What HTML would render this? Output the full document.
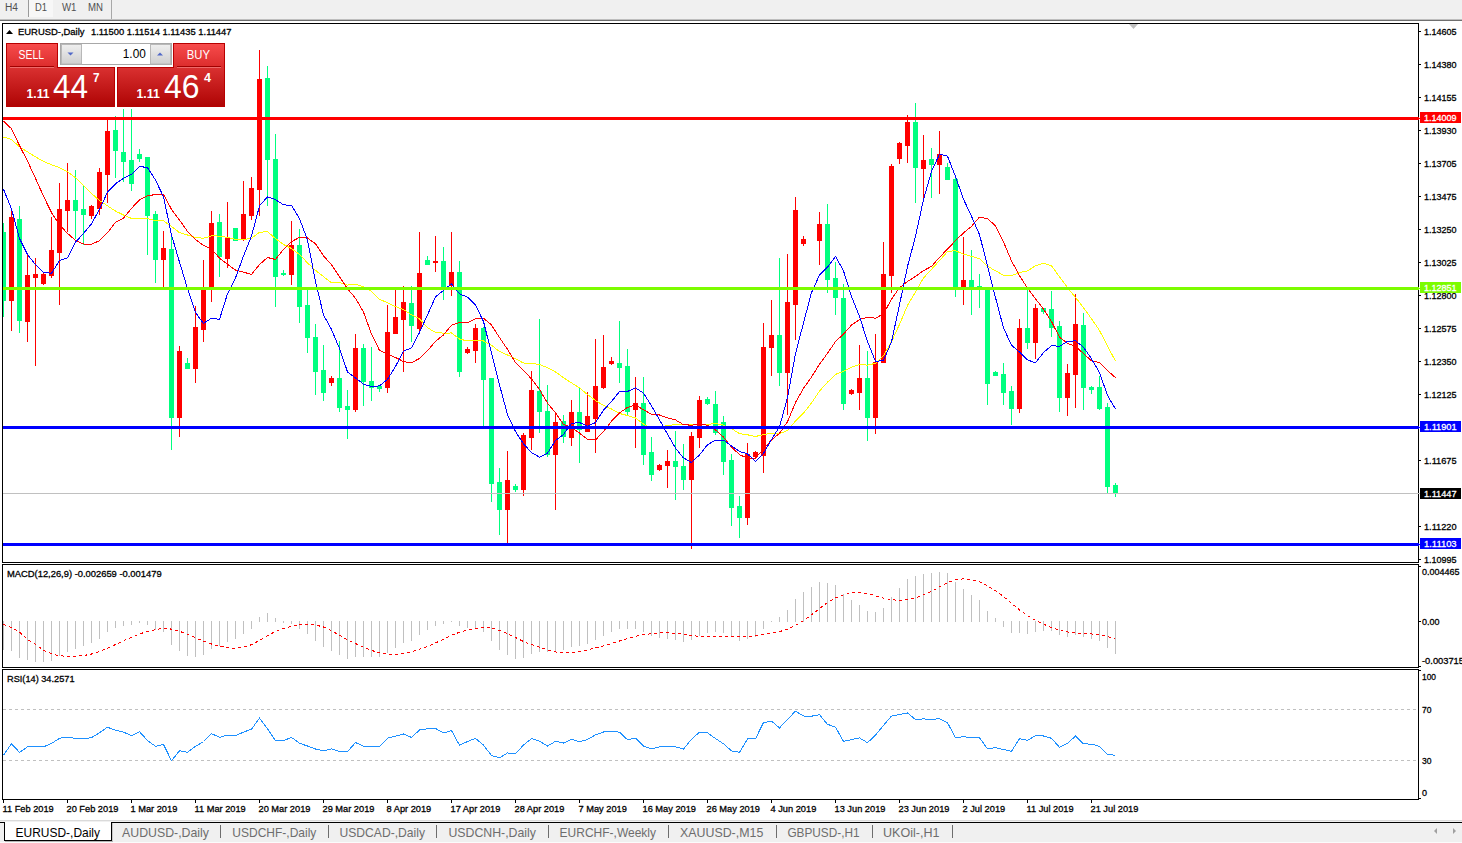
<!DOCTYPE html><html><head><meta charset="utf-8"><title>EURUSD-,Daily</title><style>html,body{margin:0;padding:0;background:#fff;overflow:hidden}svg{display:block}text{font-family:"Liberation Sans",Arial,sans-serif}.t{stroke-width:0.3px;paint-order:fill}</style></head><body>
<svg width="1462" height="843" viewBox="0 0 1462 843">
<defs><clipPath id="cm"><rect x="3" y="24" width="1415" height="538"/></clipPath><clipPath id="cmacd"><rect x="3" y="565" width="1415" height="102"/></clipPath><clipPath id="crsi"><rect x="3" y="670" width="1415" height="129"/></clipPath><linearGradient id="gbtn" x1="0" y1="0" x2="0" y2="1"><stop offset="0" stop-color="#F84D4D"/><stop offset="1" stop-color="#DC2C2C"/></linearGradient><linearGradient id="gbox" x1="0" y1="0" x2="0" y2="1"><stop offset="0" stop-color="#DA3131"/><stop offset="1" stop-color="#AE0303"/></linearGradient><linearGradient id="gspin" x1="0" y1="0" x2="0" y2="1"><stop offset="0" stop-color="#EFEFEF"/><stop offset="1" stop-color="#CFCFCF"/></linearGradient></defs>
<rect x="0" y="0" width="1462" height="843" fill="#FFFFFF" />
<rect x="0" y="0" width="1462" height="19" fill="#F0F0F0" />
<rect x="0" y="19" width="1462" height="1" fill="#BEBEBE" />
<rect x="0" y="20" width="1462" height="1" fill="#6E6E6E" />
<rect x="29" y="0" width="24" height="17" fill="#F7F7F7" />
<rect x="28" y="0" width="1" height="17" fill="#9A9A9A" />
<rect x="111" y="0" width="1" height="19" fill="#A8A8A8" />
<text x="5" y="11" font-size="10" fill="#505050" textLength="13.00" lengthAdjust="spacingAndGlyphs" >H4</text>
<text x="35" y="11" font-size="10" fill="#505050" textLength="12.00" lengthAdjust="spacingAndGlyphs" >D1</text>
<text x="62" y="11" font-size="10" fill="#505050" textLength="14.50" lengthAdjust="spacingAndGlyphs" >W1</text>
<text x="88" y="11" font-size="10" fill="#505050" textLength="15.00" lengthAdjust="spacingAndGlyphs" >MN</text>
<rect x="2.5" y="23.5" width="1416" height="539" fill="none" stroke="#000" stroke-width="1" shape-rendering="crispEdges"/>
<rect x="2.5" y="564.5" width="1416" height="103" fill="none" stroke="#000" stroke-width="1" shape-rendering="crispEdges"/>
<rect x="2.5" y="669.5" width="1416" height="130" fill="none" stroke="#000" stroke-width="1" shape-rendering="crispEdges"/>
<polygon points="1129,24 1138,24 1133.5,29" fill="#C0C0C0"/>
<rect x="1419" y="31" width="2" height="1" fill="#000" />
<text x="1424" y="35" font-size="9.7" fill="#000" textLength="32.60" lengthAdjust="spacingAndGlyphs" class="t" stroke="#000" >1.14605</text>
<rect x="1419" y="64" width="2" height="1" fill="#000" />
<text x="1424" y="68" font-size="9.7" fill="#000" textLength="32.60" lengthAdjust="spacingAndGlyphs" class="t" stroke="#000" >1.14380</text>
<rect x="1419" y="97" width="2" height="1" fill="#000" />
<text x="1424" y="101" font-size="9.7" fill="#000" textLength="32.60" lengthAdjust="spacingAndGlyphs" class="t" stroke="#000" >1.14155</text>
<rect x="1419" y="130" width="2" height="1" fill="#000" />
<text x="1424" y="134" font-size="9.7" fill="#000" textLength="32.60" lengthAdjust="spacingAndGlyphs" class="t" stroke="#000" >1.13930</text>
<rect x="1419" y="163" width="2" height="1" fill="#000" />
<text x="1424" y="167" font-size="9.7" fill="#000" textLength="32.60" lengthAdjust="spacingAndGlyphs" class="t" stroke="#000" >1.13705</text>
<rect x="1419" y="196" width="2" height="1" fill="#000" />
<text x="1424" y="200" font-size="9.7" fill="#000" textLength="32.60" lengthAdjust="spacingAndGlyphs" class="t" stroke="#000" >1.13475</text>
<rect x="1419" y="229" width="2" height="1" fill="#000" />
<text x="1424" y="233" font-size="9.7" fill="#000" textLength="32.60" lengthAdjust="spacingAndGlyphs" class="t" stroke="#000" >1.13250</text>
<rect x="1419" y="262" width="2" height="1" fill="#000" />
<text x="1424" y="266" font-size="9.7" fill="#000" textLength="32.60" lengthAdjust="spacingAndGlyphs" class="t" stroke="#000" >1.13025</text>
<rect x="1419" y="295" width="2" height="1" fill="#000" />
<text x="1424" y="299" font-size="9.7" fill="#000" textLength="32.60" lengthAdjust="spacingAndGlyphs" class="t" stroke="#000" >1.12800</text>
<rect x="1419" y="328" width="2" height="1" fill="#000" />
<text x="1424" y="332" font-size="9.7" fill="#000" textLength="32.60" lengthAdjust="spacingAndGlyphs" class="t" stroke="#000" >1.12575</text>
<rect x="1419" y="361" width="2" height="1" fill="#000" />
<text x="1424" y="365" font-size="9.7" fill="#000" textLength="32.60" lengthAdjust="spacingAndGlyphs" class="t" stroke="#000" >1.12350</text>
<rect x="1419" y="394" width="2" height="1" fill="#000" />
<text x="1424" y="398" font-size="9.7" fill="#000" textLength="32.60" lengthAdjust="spacingAndGlyphs" class="t" stroke="#000" >1.12125</text>
<rect x="1419" y="427" width="2" height="1" fill="#000" />
<text x="1424" y="431" font-size="9.7" fill="#000" textLength="32.60" lengthAdjust="spacingAndGlyphs" class="t" stroke="#000" >1.11900</text>
<rect x="1419" y="460" width="2" height="1" fill="#000" />
<text x="1424" y="464" font-size="9.7" fill="#000" textLength="32.60" lengthAdjust="spacingAndGlyphs" class="t" stroke="#000" >1.11675</text>
<rect x="1419" y="493" width="2" height="1" fill="#000" />
<text x="1424" y="497" font-size="9.7" fill="#000" textLength="32.60" lengthAdjust="spacingAndGlyphs" class="t" stroke="#000" >1.11450</text>
<rect x="1419" y="526" width="2" height="1" fill="#000" />
<text x="1424" y="530" font-size="9.7" fill="#000" textLength="32.60" lengthAdjust="spacingAndGlyphs" class="t" stroke="#000" >1.11220</text>
<rect x="1419" y="559" width="2" height="1" fill="#000" />
<text x="1424" y="563" font-size="9.7" fill="#000" textLength="32.60" lengthAdjust="spacingAndGlyphs" class="t" stroke="#000" >1.10995</text>
<g clip-path="url(#cm)">
<g shape-rendering="crispEdges">
<rect x="3" y="223" width="1" height="94" fill="#00FF7F" />
<rect x="1" y="232" width="5" height="69" fill="#00FF7F" />
<rect x="11" y="211" width="1" height="120" fill="#FF0000" />
<rect x="9" y="217" width="5" height="84" fill="#FF0000" />
<rect x="19" y="206" width="1" height="127" fill="#00FF7F" />
<rect x="17" y="219" width="5" height="102" fill="#00FF7F" />
<rect x="27" y="254" width="1" height="88" fill="#FF0000" />
<rect x="25" y="275" width="5" height="47" fill="#FF0000" />
<rect x="35" y="258" width="1" height="108" fill="#FF0000" />
<rect x="33" y="274" width="5" height="4" fill="#FF0000" />
<rect x="43" y="273" width="1" height="12" fill="#FF0000" />
<rect x="41" y="274" width="5" height="10" fill="#FF0000" />
<rect x="51" y="217" width="1" height="61" fill="#FF0000" />
<rect x="49" y="250" width="5" height="26" fill="#FF0000" />
<rect x="59" y="183" width="1" height="122" fill="#FF0000" />
<rect x="57" y="209" width="5" height="44" fill="#FF0000" />
<rect x="67" y="163" width="1" height="69" fill="#FF0000" />
<rect x="65" y="200" width="5" height="11" fill="#FF0000" />
<rect x="75" y="170" width="1" height="69" fill="#00FF7F" />
<rect x="73" y="200" width="5" height="11" fill="#00FF7F" />
<rect x="83" y="186" width="1" height="59" fill="#00FF7F" />
<rect x="81" y="209" width="5" height="6" fill="#00FF7F" />
<rect x="91" y="205" width="1" height="14" fill="#FF0000" />
<rect x="89" y="206" width="5" height="10" fill="#FF0000" />
<rect x="99" y="168" width="1" height="47" fill="#FF0000" />
<rect x="97" y="172" width="5" height="37" fill="#FF0000" />
<rect x="107" y="120" width="1" height="83" fill="#FF0000" />
<rect x="105" y="131" width="5" height="44" fill="#FF0000" />
<rect x="115" y="116" width="1" height="62" fill="#00FF7F" />
<rect x="113" y="130" width="5" height="21" fill="#00FF7F" />
<rect x="123" y="109" width="1" height="73" fill="#00FF7F" />
<rect x="121" y="152" width="5" height="10" fill="#00FF7F" />
<rect x="131" y="109" width="1" height="82" fill="#00FF7F" />
<rect x="129" y="160" width="5" height="24" fill="#00FF7F" />
<rect x="139" y="149" width="1" height="13" fill="#00FF7F" />
<rect x="137" y="154" width="5" height="5" fill="#00FF7F" />
<rect x="147" y="157" width="1" height="98" fill="#00FF7F" />
<rect x="145" y="157" width="5" height="59" fill="#00FF7F" />
<rect x="155" y="211" width="1" height="72" fill="#00FF7F" />
<rect x="153" y="214" width="5" height="46" fill="#00FF7F" />
<rect x="163" y="231" width="1" height="57" fill="#FF0000" />
<rect x="161" y="248" width="5" height="12" fill="#FF0000" />
<rect x="171" y="237" width="1" height="213" fill="#00FF7F" />
<rect x="169" y="249" width="5" height="169" fill="#00FF7F" />
<rect x="179" y="346" width="1" height="91" fill="#FF0000" />
<rect x="177" y="351" width="5" height="67" fill="#FF0000" />
<rect x="187" y="358" width="1" height="11" fill="#00FF7F" />
<rect x="185" y="363" width="5" height="6" fill="#00FF7F" />
<rect x="195" y="306" width="1" height="77" fill="#FF0000" />
<rect x="193" y="327" width="5" height="42" fill="#FF0000" />
<rect x="203" y="260" width="1" height="82" fill="#FF0000" />
<rect x="201" y="290" width="5" height="40" fill="#FF0000" />
<rect x="211" y="211" width="1" height="91" fill="#FF0000" />
<rect x="209" y="223" width="5" height="65" fill="#FF0000" />
<rect x="219" y="214" width="1" height="63" fill="#00FF7F" />
<rect x="217" y="222" width="5" height="35" fill="#00FF7F" />
<rect x="227" y="202" width="1" height="66" fill="#FF0000" />
<rect x="225" y="238" width="5" height="21" fill="#FF0000" />
<rect x="235" y="228" width="1" height="13" fill="#00FF7F" />
<rect x="233" y="228" width="5" height="13" fill="#00FF7F" />
<rect x="243" y="181" width="1" height="60" fill="#FF0000" />
<rect x="241" y="214" width="5" height="26" fill="#FF0000" />
<rect x="251" y="177" width="1" height="43" fill="#FF0000" />
<rect x="249" y="188" width="5" height="28" fill="#FF0000" />
<rect x="259" y="50" width="1" height="166" fill="#FF0000" />
<rect x="257" y="79" width="5" height="111" fill="#FF0000" />
<rect x="267" y="66" width="1" height="140" fill="#00FF7F" />
<rect x="265" y="78" width="5" height="82" fill="#00FF7F" />
<rect x="275" y="134" width="1" height="173" fill="#00FF7F" />
<rect x="273" y="159" width="5" height="118" fill="#00FF7F" />
<rect x="283" y="270" width="1" height="6" fill="#00FF7F" />
<rect x="281" y="273" width="5" height="2" fill="#00FF7F" />
<rect x="291" y="221" width="1" height="64" fill="#FF0000" />
<rect x="289" y="245" width="5" height="30" fill="#FF0000" />
<rect x="299" y="229" width="1" height="94" fill="#00FF7F" />
<rect x="297" y="245" width="5" height="62" fill="#00FF7F" />
<rect x="307" y="289" width="1" height="64" fill="#00FF7F" />
<rect x="305" y="305" width="5" height="33" fill="#00FF7F" />
<rect x="315" y="324" width="1" height="71" fill="#00FF7F" />
<rect x="313" y="337" width="5" height="35" fill="#00FF7F" />
<rect x="323" y="345" width="1" height="56" fill="#00FF7F" />
<rect x="321" y="370" width="5" height="23" fill="#00FF7F" />
<rect x="331" y="376" width="1" height="10" fill="#FF0000" />
<rect x="329" y="378" width="5" height="5" fill="#FF0000" />
<rect x="339" y="341" width="1" height="71" fill="#00FF7F" />
<rect x="337" y="378" width="5" height="30" fill="#00FF7F" />
<rect x="347" y="390" width="1" height="49" fill="#00FF7F" />
<rect x="345" y="406" width="5" height="4" fill="#00FF7F" />
<rect x="355" y="334" width="1" height="78" fill="#FF0000" />
<rect x="353" y="348" width="5" height="62" fill="#FF0000" />
<rect x="363" y="344" width="1" height="62" fill="#00FF7F" />
<rect x="361" y="348" width="5" height="34" fill="#00FF7F" />
<rect x="371" y="347" width="1" height="54" fill="#00FF7F" />
<rect x="369" y="381" width="5" height="7" fill="#00FF7F" />
<rect x="379" y="385" width="1" height="7" fill="#00FF7F" />
<rect x="377" y="386" width="5" height="3" fill="#00FF7F" />
<rect x="387" y="305" width="1" height="88" fill="#FF0000" />
<rect x="385" y="332" width="5" height="56" fill="#FF0000" />
<rect x="395" y="290" width="1" height="44" fill="#FF0000" />
<rect x="393" y="317" width="5" height="17" fill="#FF0000" />
<rect x="403" y="286" width="1" height="86" fill="#FF0000" />
<rect x="401" y="302" width="5" height="18" fill="#FF0000" />
<rect x="411" y="286" width="1" height="56" fill="#00FF7F" />
<rect x="409" y="303" width="5" height="23" fill="#00FF7F" />
<rect x="419" y="232" width="1" height="99" fill="#FF0000" />
<rect x="417" y="273" width="5" height="56" fill="#FF0000" />
<rect x="427" y="256" width="1" height="9" fill="#00FF7F" />
<rect x="425" y="260" width="5" height="5" fill="#00FF7F" />
<rect x="435" y="236" width="1" height="36" fill="#FF0000" />
<rect x="433" y="261" width="5" height="2" fill="#FF0000" />
<rect x="443" y="247" width="1" height="53" fill="#00FF7F" />
<rect x="441" y="261" width="5" height="27" fill="#00FF7F" />
<rect x="451" y="232" width="1" height="64" fill="#FF0000" />
<rect x="449" y="272" width="5" height="14" fill="#FF0000" />
<rect x="459" y="261" width="1" height="116" fill="#00FF7F" />
<rect x="457" y="272" width="5" height="100" fill="#00FF7F" />
<rect x="467" y="347" width="1" height="7" fill="#FF0000" />
<rect x="465" y="349" width="5" height="4" fill="#FF0000" />
<rect x="475" y="324" width="1" height="39" fill="#FF0000" />
<rect x="473" y="328" width="5" height="23" fill="#FF0000" />
<rect x="483" y="327" width="1" height="100" fill="#00FF7F" />
<rect x="481" y="328" width="5" height="52" fill="#00FF7F" />
<rect x="491" y="378" width="1" height="124" fill="#00FF7F" />
<rect x="489" y="378" width="5" height="106" fill="#00FF7F" />
<rect x="499" y="468" width="1" height="67" fill="#00FF7F" />
<rect x="497" y="482" width="5" height="28" fill="#00FF7F" />
<rect x="507" y="451" width="1" height="94" fill="#FF0000" />
<rect x="505" y="480" width="5" height="30" fill="#FF0000" />
<rect x="515" y="484" width="1" height="8" fill="#00FF7F" />
<rect x="513" y="486" width="5" height="4" fill="#00FF7F" />
<rect x="523" y="433" width="1" height="63" fill="#FF0000" />
<rect x="521" y="435" width="5" height="55" fill="#FF0000" />
<rect x="531" y="371" width="1" height="79" fill="#FF0000" />
<rect x="529" y="390" width="5" height="48" fill="#FF0000" />
<rect x="539" y="319" width="1" height="114" fill="#00FF7F" />
<rect x="537" y="391" width="5" height="21" fill="#00FF7F" />
<rect x="547" y="385" width="1" height="72" fill="#00FF7F" />
<rect x="545" y="411" width="5" height="44" fill="#00FF7F" />
<rect x="555" y="412" width="1" height="98" fill="#FF0000" />
<rect x="553" y="422" width="5" height="33" fill="#FF0000" />
<rect x="563" y="415" width="1" height="28" fill="#00FF7F" />
<rect x="561" y="421" width="5" height="16" fill="#00FF7F" />
<rect x="571" y="400" width="1" height="46" fill="#FF0000" />
<rect x="569" y="412" width="5" height="26" fill="#FF0000" />
<rect x="579" y="387" width="1" height="76" fill="#00FF7F" />
<rect x="577" y="412" width="5" height="18" fill="#00FF7F" />
<rect x="587" y="392" width="1" height="40" fill="#FF0000" />
<rect x="585" y="416" width="5" height="16" fill="#FF0000" />
<rect x="595" y="339" width="1" height="114" fill="#FF0000" />
<rect x="593" y="386" width="5" height="33" fill="#FF0000" />
<rect x="603" y="335" width="1" height="54" fill="#FF0000" />
<rect x="601" y="367" width="5" height="21" fill="#FF0000" />
<rect x="611" y="357" width="1" height="8" fill="#FF0000" />
<rect x="609" y="361" width="5" height="3" fill="#FF0000" />
<rect x="619" y="321" width="1" height="62" fill="#00FF7F" />
<rect x="617" y="363" width="5" height="5" fill="#00FF7F" />
<rect x="627" y="349" width="1" height="66" fill="#00FF7F" />
<rect x="625" y="366" width="5" height="46" fill="#00FF7F" />
<rect x="635" y="377" width="1" height="71" fill="#FF0000" />
<rect x="633" y="403" width="5" height="7" fill="#FF0000" />
<rect x="643" y="377" width="1" height="88" fill="#00FF7F" />
<rect x="641" y="403" width="5" height="52" fill="#00FF7F" />
<rect x="651" y="437" width="1" height="44" fill="#00FF7F" />
<rect x="649" y="452" width="5" height="23" fill="#00FF7F" />
<rect x="659" y="464" width="1" height="7" fill="#FF0000" />
<rect x="657" y="465" width="5" height="5" fill="#FF0000" />
<rect x="667" y="450" width="1" height="38" fill="#FF0000" />
<rect x="665" y="461" width="5" height="5" fill="#FF0000" />
<rect x="675" y="431" width="1" height="69" fill="#00FF7F" />
<rect x="673" y="461" width="5" height="6" fill="#00FF7F" />
<rect x="683" y="444" width="1" height="46" fill="#00FF7F" />
<rect x="681" y="466" width="5" height="14" fill="#00FF7F" />
<rect x="691" y="432" width="1" height="117" fill="#FF0000" />
<rect x="689" y="436" width="5" height="44" fill="#FF0000" />
<rect x="699" y="396" width="1" height="52" fill="#FF0000" />
<rect x="697" y="400" width="5" height="38" fill="#FF0000" />
<rect x="707" y="397" width="1" height="8" fill="#00FF7F" />
<rect x="705" y="399" width="5" height="5" fill="#00FF7F" />
<rect x="715" y="391" width="1" height="44" fill="#00FF7F" />
<rect x="713" y="404" width="5" height="29" fill="#00FF7F" />
<rect x="723" y="416" width="1" height="59" fill="#00FF7F" />
<rect x="721" y="422" width="5" height="40" fill="#00FF7F" />
<rect x="731" y="454" width="1" height="72" fill="#00FF7F" />
<rect x="729" y="460" width="5" height="48" fill="#00FF7F" />
<rect x="739" y="496" width="1" height="42" fill="#00FF7F" />
<rect x="737" y="506" width="5" height="12" fill="#00FF7F" />
<rect x="747" y="443" width="1" height="82" fill="#FF0000" />
<rect x="745" y="454" width="5" height="64" fill="#FF0000" />
<rect x="755" y="451" width="1" height="7" fill="#FF0000" />
<rect x="753" y="452" width="5" height="5" fill="#FF0000" />
<rect x="763" y="323" width="1" height="150" fill="#FF0000" />
<rect x="761" y="347" width="5" height="109" fill="#FF0000" />
<rect x="771" y="300" width="1" height="76" fill="#FF0000" />
<rect x="769" y="335" width="5" height="13" fill="#FF0000" />
<rect x="779" y="258" width="1" height="128" fill="#00FF7F" />
<rect x="777" y="335" width="5" height="38" fill="#00FF7F" />
<rect x="787" y="254" width="1" height="161" fill="#FF0000" />
<rect x="785" y="302" width="5" height="71" fill="#FF0000" />
<rect x="795" y="197" width="1" height="143" fill="#FF0000" />
<rect x="793" y="210" width="5" height="95" fill="#FF0000" />
<rect x="803" y="236" width="1" height="10" fill="#FF0000" />
<rect x="801" y="239" width="5" height="5" fill="#FF0000" />
<rect x="819" y="212" width="1" height="53" fill="#FF0000" />
<rect x="817" y="224" width="5" height="17" fill="#FF0000" />
<rect x="827" y="204" width="1" height="89" fill="#00FF7F" />
<rect x="825" y="224" width="5" height="56" fill="#00FF7F" />
<rect x="835" y="262" width="1" height="53" fill="#00FF7F" />
<rect x="833" y="278" width="5" height="20" fill="#00FF7F" />
<rect x="843" y="284" width="1" height="126" fill="#00FF7F" />
<rect x="841" y="298" width="5" height="106" fill="#00FF7F" />
<rect x="851" y="389" width="1" height="6" fill="#FF0000" />
<rect x="849" y="390" width="5" height="4" fill="#FF0000" />
<rect x="859" y="345" width="1" height="65" fill="#FF0000" />
<rect x="857" y="378" width="5" height="15" fill="#FF0000" />
<rect x="867" y="351" width="1" height="90" fill="#00FF7F" />
<rect x="865" y="378" width="5" height="40" fill="#00FF7F" />
<rect x="875" y="334" width="1" height="100" fill="#FF0000" />
<rect x="873" y="362" width="5" height="56" fill="#FF0000" />
<rect x="883" y="242" width="1" height="121" fill="#FF0000" />
<rect x="881" y="274" width="5" height="89" fill="#FF0000" />
<rect x="891" y="164" width="1" height="129" fill="#FF0000" />
<rect x="889" y="166" width="5" height="110" fill="#FF0000" />
<rect x="899" y="142" width="1" height="22" fill="#FF0000" />
<rect x="897" y="143" width="5" height="16" fill="#FF0000" />
<rect x="907" y="115" width="1" height="48" fill="#FF0000" />
<rect x="905" y="122" width="5" height="24" fill="#FF0000" />
<rect x="915" y="103" width="1" height="100" fill="#00FF7F" />
<rect x="913" y="122" width="5" height="46" fill="#00FF7F" />
<rect x="923" y="135" width="1" height="64" fill="#FF0000" />
<rect x="921" y="160" width="5" height="9" fill="#FF0000" />
<rect x="931" y="148" width="1" height="50" fill="#00FF7F" />
<rect x="929" y="159" width="5" height="6" fill="#00FF7F" />
<rect x="939" y="131" width="1" height="63" fill="#FF0000" />
<rect x="937" y="154" width="5" height="11" fill="#FF0000" />
<rect x="947" y="163" width="1" height="17" fill="#00FF7F" />
<rect x="945" y="167" width="5" height="13" fill="#00FF7F" />
<rect x="955" y="178" width="1" height="119" fill="#00FF7F" />
<rect x="953" y="179" width="5" height="109" fill="#00FF7F" />
<rect x="963" y="237" width="1" height="68" fill="#FF0000" />
<rect x="961" y="280" width="5" height="8" fill="#FF0000" />
<rect x="971" y="250" width="1" height="65" fill="#00FF7F" />
<rect x="969" y="280" width="5" height="8" fill="#00FF7F" />
<rect x="979" y="274" width="1" height="34" fill="#00FF7F" />
<rect x="977" y="286" width="5" height="3" fill="#00FF7F" />
<rect x="987" y="288" width="1" height="117" fill="#00FF7F" />
<rect x="985" y="288" width="5" height="96" fill="#00FF7F" />
<rect x="995" y="371" width="1" height="5" fill="#00FF7F" />
<rect x="993" y="372" width="5" height="4" fill="#00FF7F" />
<rect x="1003" y="363" width="1" height="42" fill="#00FF7F" />
<rect x="1001" y="374" width="5" height="19" fill="#00FF7F" />
<rect x="1011" y="386" width="1" height="39" fill="#00FF7F" />
<rect x="1009" y="391" width="5" height="18" fill="#00FF7F" />
<rect x="1019" y="319" width="1" height="94" fill="#FF0000" />
<rect x="1017" y="328" width="5" height="81" fill="#FF0000" />
<rect x="1027" y="289" width="1" height="60" fill="#00FF7F" />
<rect x="1025" y="328" width="5" height="15" fill="#00FF7F" />
<rect x="1035" y="304" width="1" height="55" fill="#FF0000" />
<rect x="1033" y="308" width="5" height="35" fill="#FF0000" />
<rect x="1043" y="308" width="1" height="6" fill="#00FF7F" />
<rect x="1041" y="308" width="5" height="4" fill="#00FF7F" />
<rect x="1051" y="291" width="1" height="46" fill="#00FF7F" />
<rect x="1049" y="309" width="5" height="19" fill="#00FF7F" />
<rect x="1059" y="321" width="1" height="91" fill="#00FF7F" />
<rect x="1057" y="326" width="5" height="72" fill="#00FF7F" />
<rect x="1067" y="364" width="1" height="52" fill="#FF0000" />
<rect x="1065" y="373" width="5" height="25" fill="#FF0000" />
<rect x="1075" y="294" width="1" height="114" fill="#FF0000" />
<rect x="1073" y="324" width="5" height="51" fill="#FF0000" />
<rect x="1083" y="313" width="1" height="97" fill="#00FF7F" />
<rect x="1081" y="325" width="5" height="63" fill="#00FF7F" />
<rect x="1091" y="386" width="1" height="8" fill="#00FF7F" />
<rect x="1089" y="387" width="5" height="3" fill="#00FF7F" />
<rect x="1099" y="376" width="1" height="34" fill="#00FF7F" />
<rect x="1097" y="387" width="5" height="22" fill="#00FF7F" />
<rect x="1107" y="403" width="1" height="91" fill="#00FF7F" />
<rect x="1105" y="407" width="5" height="80" fill="#00FF7F" />
<rect x="1115" y="483" width="1" height="14" fill="#00FF7F" />
<rect x="1113" y="485" width="5" height="9" fill="#00FF7F" />
</g>
<polyline points="3.5,137.0 11.5,139.5 19.5,146.9 27.5,151.9 35.5,156.8 43.5,161.4 51.5,164.7 59.5,167.6 67.5,171.7 75.5,177.8 83.5,185.2 91.5,193.5 99.5,200.5 107.5,205.8 115.5,211.1 123.5,215.0 131.5,218.4 139.5,218.1 147.5,218.7 155.5,220.5 163.5,220.8 171.5,226.4 179.5,232.7 187.5,235.0 195.5,237.5 203.5,238.3 211.5,235.8 219.5,236.1 227.5,237.5 235.5,239.4 243.5,239.6 251.5,238.4 259.5,232.3 267.5,231.7 275.5,238.6 283.5,244.5 291.5,248.5 299.5,254.4 307.5,262.9 315.5,270.3 323.5,276.6 331.5,282.8 339.5,282.4 347.5,285.1 355.5,284.2 363.5,286.7 371.5,291.4 379.5,299.2 387.5,302.8 395.5,306.6 403.5,309.5 411.5,314.8 419.5,318.9 427.5,327.7 435.5,332.5 443.5,333.1 451.5,333.0 459.5,339.0 467.5,341.0 475.5,340.6 483.5,341.0 491.5,345.3 499.5,351.5 507.5,355.0 515.5,358.8 523.5,363.0 531.5,363.4 539.5,364.5 547.5,367.7 555.5,372.0 563.5,377.6 571.5,382.9 579.5,387.8 587.5,394.6 595.5,400.5 603.5,405.5 611.5,409.0 619.5,413.5 627.5,415.5 635.5,418.0 643.5,424.0 651.5,428.5 659.5,427.7 667.5,425.4 675.5,424.7 683.5,424.3 691.5,424.3 699.5,424.8 707.5,424.4 715.5,423.4 723.5,425.2 731.5,428.6 739.5,433.6 747.5,434.8 755.5,436.5 763.5,434.6 771.5,433.1 779.5,433.6 787.5,430.5 795.5,421.0 803.5,413.2 811.5,403.0 819.5,391.1 827.5,382.2 835.5,374.4 843.5,371.4 851.5,367.2 859.5,364.4 867.5,365.2 875.5,363.3 883.5,355.7 891.5,341.7 899.5,324.4 907.5,305.5 915.5,291.9 923.5,278.0 931.5,269.3 939.5,260.6 947.5,251.5 955.5,250.7 963.5,254.1 971.5,256.4 979.5,258.6 987.5,266.2 995.5,270.8 1003.5,275.3 1011.5,275.5 1019.5,272.6 1027.5,270.9 1035.5,265.7 1043.5,263.3 1051.5,265.8 1059.5,276.8 1067.5,287.7 1075.5,297.4 1083.5,307.8 1091.5,318.7 1099.5,330.4 1107.5,346.2 1115.5,361.1" fill="none" stroke="#FFFF00" stroke-width="1" shape-rendering="crispEdges"/>
<polyline points="3.5,121.2 11.5,128.7 19.5,145.6 27.5,161.1 35.5,178.3 43.5,196.2 51.5,212.6 59.5,224.8 67.5,233.4 75.5,240.4 83.5,244.0 91.5,244.2 99.5,240.7 107.5,232.8 115.5,222.1 123.5,218.1 131.5,208.3 139.5,199.9 147.5,195.7 155.5,194.6 163.5,194.5 171.5,209.4 179.5,220.1 187.5,231.4 195.5,239.5 203.5,245.5 211.5,249.1 219.5,258.1 227.5,264.4 235.5,270.0 243.5,272.2 251.5,274.4 259.5,264.6 267.5,257.5 275.5,259.5 283.5,249.3 291.5,241.7 299.5,237.3 307.5,238.0 315.5,243.8 323.5,255.9 331.5,264.6 339.5,276.6 347.5,288.7 355.5,298.3 363.5,312.1 371.5,334.1 379.5,350.4 387.5,354.4 395.5,357.5 403.5,361.6 411.5,362.9 419.5,358.4 427.5,350.7 435.5,341.4 443.5,334.9 451.5,325.2 459.5,322.5 467.5,322.6 475.5,318.8 483.5,318.2 491.5,325.0 499.5,337.6 507.5,349.3 515.5,362.6 523.5,370.5 531.5,378.9 539.5,389.4 547.5,403.1 555.5,412.8 563.5,424.5 571.5,427.4 579.5,433.1 587.5,439.4 595.5,439.9 603.5,431.6 611.5,421.1 619.5,413.0 627.5,407.4 635.5,405.1 643.5,409.7 651.5,414.2 659.5,415.0 667.5,417.8 675.5,419.9 683.5,424.7 691.5,425.2 699.5,424.1 707.5,425.3 715.5,429.9 723.5,437.1 731.5,447.1 739.5,454.6 747.5,458.3 755.5,458.1 763.5,449.1 771.5,439.8 779.5,433.4 787.5,421.7 795.5,402.5 803.5,388.4 811.5,377.0 819.5,364.2 827.5,353.3 835.5,341.6 843.5,334.1 851.5,325.1 859.5,319.6 867.5,317.1 875.5,318.2 883.5,313.9 891.5,299.1 899.5,287.8 907.5,281.5 915.5,276.4 923.5,270.6 931.5,266.4 939.5,257.4 947.5,249.0 955.5,240.7 963.5,232.9 971.5,226.4 979.5,217.1 987.5,218.6 995.5,225.9 1003.5,242.0 1011.5,260.9 1019.5,275.6 1027.5,288.1 1035.5,298.7 1043.5,309.2 1051.5,321.6 1059.5,337.1 1067.5,343.3 1075.5,346.4 1083.5,353.6 1091.5,360.8 1099.5,362.6 1107.5,370.5 1115.5,377.7" fill="none" stroke="#FF0000" stroke-width="1" shape-rendering="crispEdges"/>
<polyline points="3.5,189.3 11.5,208.9 19.5,238.5 27.5,254.5 35.5,264.7 43.5,272.2 51.5,273.4 59.5,260.4 67.5,257.9 75.5,242.2 83.5,233.5 91.5,223.8 99.5,209.2 107.5,192.2 115.5,183.8 123.5,178.2 131.5,174.4 139.5,166.4 147.5,167.6 155.5,180.1 163.5,196.8 171.5,234.9 179.5,262.1 187.5,288.5 195.5,312.6 203.5,323.4 211.5,318.2 219.5,319.4 227.5,293.8 235.5,277.9 243.5,255.9 251.5,236.1 259.5,205.9 267.5,196.8 275.5,199.6 283.5,204.8 291.5,205.5 299.5,218.6 307.5,239.9 315.5,281.6 323.5,314.9 331.5,329.5 339.5,348.5 347.5,371.9 355.5,377.9 363.5,384.2 371.5,386.5 379.5,385.9 387.5,379.4 395.5,366.5 403.5,351.2 411.5,347.9 419.5,332.5 427.5,314.9 435.5,296.8 443.5,290.4 451.5,283.9 459.5,293.8 467.5,297.2 475.5,305.1 483.5,321.5 491.5,353.2 499.5,384.9 507.5,414.6 515.5,431.5 523.5,443.8 531.5,452.6 539.5,457.2 547.5,453.1 555.5,440.6 563.5,434.4 571.5,423.4 579.5,422.5 587.5,426.2 595.5,422.6 603.5,410.2 611.5,401.5 619.5,391.6 627.5,391.5 635.5,387.8 643.5,393.2 651.5,405.8 659.5,419.8 667.5,434.1 675.5,448.2 683.5,457.9 691.5,462.6 699.5,454.9 707.5,444.8 715.5,440.1 723.5,440.1 731.5,445.9 739.5,451.4 747.5,453.9 755.5,461.4 763.5,453.4 771.5,439.5 779.5,426.8 787.5,397.5 795.5,353.6 803.5,322.9 811.5,292.6 819.5,275.1 827.5,267.1 835.5,256.4 843.5,270.8 851.5,296.5 859.5,316.4 867.5,341.6 875.5,361.4 883.5,360.6 891.5,341.9 899.5,304.8 907.5,266.5 915.5,236.4 923.5,199.6 931.5,171.4 939.5,154.2 947.5,156.1 955.5,176.6 963.5,199.2 971.5,216.4 979.5,234.6 987.5,265.9 995.5,297.5 1003.5,327.9 1011.5,345.2 1019.5,352.1 1027.5,359.9 1035.5,362.8 1043.5,352.5 1051.5,345.6 1059.5,346.4 1067.5,341.4 1075.5,340.8 1083.5,347.2 1091.5,358.8 1099.5,372.6 1107.5,395.4 1115.5,409.1" fill="none" stroke="#0000FF" stroke-width="1" shape-rendering="crispEdges"/>
</g>
<rect x="3" y="117" width="1416" height="3" fill="#FF0000" />
<rect x="1419" y="118" width="1" height="1" fill="#FF0000" />
<rect x="3" y="287" width="1416" height="3" fill="#7CFC00" />
<rect x="1419" y="288" width="1" height="1" fill="#7CFC00" />
<rect x="3" y="426" width="1416" height="3" fill="#0000FF" />
<rect x="1419" y="427" width="1" height="1" fill="#0000FF" />
<rect x="3" y="493" width="1416" height="1" fill="#C0C0C0" />
<rect x="1419" y="493" width="1" height="1" fill="#C0C0C0" />
<rect x="3" y="543" width="1416" height="3" fill="#0000FF" />
<rect x="1419" y="544" width="1" height="1" fill="#0000FF" />
<rect x="1420" y="112" width="41" height="11" fill="#FF0000" />
<text x="1424" y="121.2" font-size="9.7" fill="#FFFFFF" textLength="32.60" lengthAdjust="spacingAndGlyphs" class="t" stroke="#FFFFFF" >1.14009</text>
<rect x="1420" y="282" width="41" height="11" fill="#7CFC00" />
<text x="1424" y="291.2" font-size="9.7" fill="#FFFFFF" textLength="32.60" lengthAdjust="spacingAndGlyphs" class="t" stroke="#FFFFFF" >1.12851</text>
<rect x="1420" y="421" width="41" height="11" fill="#0000FF" />
<text x="1424" y="430.2" font-size="9.7" fill="#FFFFFF" textLength="32.60" lengthAdjust="spacingAndGlyphs" class="t" stroke="#FFFFFF" >1.11901</text>
<rect x="1420" y="488" width="41" height="11" fill="#000000" />
<text x="1424" y="497.2" font-size="9.7" fill="#FFFFFF" textLength="32.60" lengthAdjust="spacingAndGlyphs" class="t" stroke="#FFFFFF" >1.11447</text>
<rect x="1420" y="538" width="41" height="11" fill="#0000FF" />
<text x="1424" y="547.2" font-size="9.7" fill="#FFFFFF" textLength="32.60" lengthAdjust="spacingAndGlyphs" class="t" stroke="#FFFFFF" >1.11103</text>
<polygon points="6,34 13,34 9.5,30" fill="#000"/>
<text x="18" y="35" font-size="9.7" fill="#000" textLength="66.50" lengthAdjust="spacingAndGlyphs" class="t" stroke="#000" >EURUSD-,Daily</text>
<text x="91" y="35" font-size="9.7" fill="#000" textLength="140.50" lengthAdjust="spacingAndGlyphs" class="t" stroke="#000" >1.11500 1.11514 1.11435 1.11447</text>
<g clip-path="url(#cmacd)" shape-rendering="crispEdges">
<rect x="3" y="621" width="1" height="29" fill="#C0C0C0" />
<rect x="11" y="621" width="1" height="30" fill="#C0C0C0" />
<rect x="19" y="621" width="1" height="37" fill="#C0C0C0" />
<rect x="27" y="621" width="1" height="39" fill="#C0C0C0" />
<rect x="35" y="621" width="1" height="41" fill="#C0C0C0" />
<rect x="43" y="621" width="1" height="41" fill="#C0C0C0" />
<rect x="51" y="621" width="1" height="40" fill="#C0C0C0" />
<rect x="59" y="621" width="1" height="35" fill="#C0C0C0" />
<rect x="67" y="621" width="1" height="31" fill="#C0C0C0" />
<rect x="75" y="621" width="1" height="28" fill="#C0C0C0" />
<rect x="83" y="621" width="1" height="25" fill="#C0C0C0" />
<rect x="91" y="621" width="1" height="22" fill="#C0C0C0" />
<rect x="99" y="621" width="1" height="18" fill="#C0C0C0" />
<rect x="107" y="621" width="1" height="11" fill="#C0C0C0" />
<rect x="115" y="621" width="1" height="7" fill="#C0C0C0" />
<rect x="123" y="621" width="1" height="5" fill="#C0C0C0" />
<rect x="131" y="621" width="1" height="4" fill="#C0C0C0" />
<rect x="139" y="621" width="1" height="2" fill="#C0C0C0" />
<rect x="147" y="621" width="1" height="4" fill="#C0C0C0" />
<rect x="155" y="621" width="1" height="9" fill="#C0C0C0" />
<rect x="163" y="621" width="1" height="11" fill="#C0C0C0" />
<rect x="171" y="621" width="1" height="24" fill="#C0C0C0" />
<rect x="179" y="621" width="1" height="30" fill="#C0C0C0" />
<rect x="187" y="621" width="1" height="35" fill="#C0C0C0" />
<rect x="195" y="621" width="1" height="36" fill="#C0C0C0" />
<rect x="203" y="621" width="1" height="34" fill="#C0C0C0" />
<rect x="211" y="621" width="1" height="28" fill="#C0C0C0" />
<rect x="219" y="621" width="1" height="25" fill="#C0C0C0" />
<rect x="227" y="621" width="1" height="21" fill="#C0C0C0" />
<rect x="235" y="621" width="1" height="18" fill="#C0C0C0" />
<rect x="243" y="621" width="1" height="13" fill="#C0C0C0" />
<rect x="251" y="621" width="1" height="8" fill="#C0C0C0" />
<rect x="259" y="617" width="1" height="5" fill="#C0C0C0" />
<rect x="267" y="613" width="1" height="9" fill="#C0C0C0" />
<rect x="275" y="618" width="1" height="4" fill="#C0C0C0" />
<rect x="283" y="621" width="1" height="2" fill="#C0C0C0" />
<rect x="291" y="621" width="1" height="3" fill="#C0C0C0" />
<rect x="299" y="621" width="1" height="8" fill="#C0C0C0" />
<rect x="307" y="621" width="1" height="13" fill="#C0C0C0" />
<rect x="315" y="621" width="1" height="20" fill="#C0C0C0" />
<rect x="323" y="621" width="1" height="26" fill="#C0C0C0" />
<rect x="331" y="621" width="1" height="30" fill="#C0C0C0" />
<rect x="339" y="621" width="1" height="34" fill="#C0C0C0" />
<rect x="347" y="621" width="1" height="38" fill="#C0C0C0" />
<rect x="355" y="621" width="1" height="36" fill="#C0C0C0" />
<rect x="363" y="621" width="1" height="36" fill="#C0C0C0" />
<rect x="371" y="621" width="1" height="36" fill="#C0C0C0" />
<rect x="379" y="621" width="1" height="36" fill="#C0C0C0" />
<rect x="387" y="621" width="1" height="32" fill="#C0C0C0" />
<rect x="395" y="621" width="1" height="27" fill="#C0C0C0" />
<rect x="403" y="621" width="1" height="22" fill="#C0C0C0" />
<rect x="411" y="621" width="1" height="20" fill="#C0C0C0" />
<rect x="419" y="621" width="1" height="14" fill="#C0C0C0" />
<rect x="427" y="621" width="1" height="9" fill="#C0C0C0" />
<rect x="435" y="621" width="1" height="5" fill="#C0C0C0" />
<rect x="443" y="621" width="1" height="3" fill="#C0C0C0" />
<rect x="451" y="621" width="1" height="1" fill="#C0C0C0" />
<rect x="459" y="621" width="1" height="5" fill="#C0C0C0" />
<rect x="467" y="621" width="1" height="7" fill="#C0C0C0" />
<rect x="475" y="621" width="1" height="8" fill="#C0C0C0" />
<rect x="483" y="621" width="1" height="11" fill="#C0C0C0" />
<rect x="491" y="621" width="1" height="20" fill="#C0C0C0" />
<rect x="499" y="621" width="1" height="29" fill="#C0C0C0" />
<rect x="507" y="621" width="1" height="34" fill="#C0C0C0" />
<rect x="515" y="621" width="1" height="38" fill="#C0C0C0" />
<rect x="523" y="621" width="1" height="37" fill="#C0C0C0" />
<rect x="531" y="621" width="1" height="33" fill="#C0C0C0" />
<rect x="539" y="621" width="1" height="31" fill="#C0C0C0" />
<rect x="547" y="621" width="1" height="31" fill="#C0C0C0" />
<rect x="555" y="621" width="1" height="30" fill="#C0C0C0" />
<rect x="563" y="621" width="1" height="29" fill="#C0C0C0" />
<rect x="571" y="621" width="1" height="26" fill="#C0C0C0" />
<rect x="579" y="621" width="1" height="25" fill="#C0C0C0" />
<rect x="587" y="621" width="1" height="23" fill="#C0C0C0" />
<rect x="595" y="621" width="1" height="19" fill="#C0C0C0" />
<rect x="603" y="621" width="1" height="15" fill="#C0C0C0" />
<rect x="611" y="621" width="1" height="11" fill="#C0C0C0" />
<rect x="619" y="621" width="1" height="8" fill="#C0C0C0" />
<rect x="627" y="621" width="1" height="8" fill="#C0C0C0" />
<rect x="635" y="621" width="1" height="8" fill="#C0C0C0" />
<rect x="643" y="621" width="1" height="11" fill="#C0C0C0" />
<rect x="651" y="621" width="1" height="15" fill="#C0C0C0" />
<rect x="659" y="621" width="1" height="17" fill="#C0C0C0" />
<rect x="667" y="621" width="1" height="18" fill="#C0C0C0" />
<rect x="675" y="621" width="1" height="19" fill="#C0C0C0" />
<rect x="683" y="621" width="1" height="21" fill="#C0C0C0" />
<rect x="691" y="621" width="1" height="19" fill="#C0C0C0" />
<rect x="699" y="621" width="1" height="15" fill="#C0C0C0" />
<rect x="707" y="621" width="1" height="12" fill="#C0C0C0" />
<rect x="715" y="621" width="1" height="11" fill="#C0C0C0" />
<rect x="723" y="621" width="1" height="12" fill="#C0C0C0" />
<rect x="731" y="621" width="1" height="16" fill="#C0C0C0" />
<rect x="739" y="621" width="1" height="20" fill="#C0C0C0" />
<rect x="747" y="621" width="1" height="18" fill="#C0C0C0" />
<rect x="755" y="621" width="1" height="16" fill="#C0C0C0" />
<rect x="763" y="621" width="1" height="8" fill="#C0C0C0" />
<rect x="771" y="621" width="1" height="1" fill="#C0C0C0" />
<rect x="779" y="617" width="1" height="5" fill="#C0C0C0" />
<rect x="787" y="610" width="1" height="12" fill="#C0C0C0" />
<rect x="795" y="599" width="1" height="23" fill="#C0C0C0" />
<rect x="803" y="592" width="1" height="30" fill="#C0C0C0" />
<rect x="811" y="587" width="1" height="35" fill="#C0C0C0" />
<rect x="819" y="582" width="1" height="40" fill="#C0C0C0" />
<rect x="827" y="583" width="1" height="39" fill="#C0C0C0" />
<rect x="835" y="585" width="1" height="37" fill="#C0C0C0" />
<rect x="843" y="594" width="1" height="28" fill="#C0C0C0" />
<rect x="851" y="600" width="1" height="22" fill="#C0C0C0" />
<rect x="859" y="605" width="1" height="17" fill="#C0C0C0" />
<rect x="867" y="611" width="1" height="11" fill="#C0C0C0" />
<rect x="875" y="612" width="1" height="10" fill="#C0C0C0" />
<rect x="883" y="608" width="1" height="14" fill="#C0C0C0" />
<rect x="891" y="597" width="1" height="25" fill="#C0C0C0" />
<rect x="899" y="588" width="1" height="34" fill="#C0C0C0" />
<rect x="907" y="579" width="1" height="43" fill="#C0C0C0" />
<rect x="915" y="576" width="1" height="46" fill="#C0C0C0" />
<rect x="923" y="574" width="1" height="48" fill="#C0C0C0" />
<rect x="931" y="573" width="1" height="49" fill="#C0C0C0" />
<rect x="939" y="572" width="1" height="50" fill="#C0C0C0" />
<rect x="947" y="573" width="1" height="49" fill="#C0C0C0" />
<rect x="955" y="582" width="1" height="40" fill="#C0C0C0" />
<rect x="963" y="589" width="1" height="33" fill="#C0C0C0" />
<rect x="971" y="595" width="1" height="27" fill="#C0C0C0" />
<rect x="979" y="600" width="1" height="22" fill="#C0C0C0" />
<rect x="987" y="611" width="1" height="11" fill="#C0C0C0" />
<rect x="995" y="618" width="1" height="4" fill="#C0C0C0" />
<rect x="1003" y="621" width="1" height="6" fill="#C0C0C0" />
<rect x="1011" y="621" width="1" height="12" fill="#C0C0C0" />
<rect x="1019" y="621" width="1" height="12" fill="#C0C0C0" />
<rect x="1027" y="621" width="1" height="13" fill="#C0C0C0" />
<rect x="1035" y="621" width="1" height="11" fill="#C0C0C0" />
<rect x="1043" y="621" width="1" height="10" fill="#C0C0C0" />
<rect x="1051" y="621" width="1" height="10" fill="#C0C0C0" />
<rect x="1059" y="621" width="1" height="14" fill="#C0C0C0" />
<rect x="1067" y="621" width="1" height="16" fill="#C0C0C0" />
<rect x="1075" y="621" width="1" height="14" fill="#C0C0C0" />
<rect x="1083" y="621" width="1" height="16" fill="#C0C0C0" />
<rect x="1091" y="621" width="1" height="18" fill="#C0C0C0" />
<rect x="1099" y="621" width="1" height="20" fill="#C0C0C0" />
<rect x="1107" y="621" width="1" height="27" fill="#C0C0C0" />
<rect x="1115" y="621" width="1" height="33" fill="#C0C0C0" />
<polyline points="3.5,624.4 11.5,627.6 19.5,632.2 27.5,639.4 35.5,644.5 43.5,650.2 51.5,653.8 59.5,655.8 67.5,656.3 75.5,656.1 83.5,655.6 91.5,654.0 99.5,651.6 107.5,648.3 115.5,644.5 123.5,640.7 131.5,637.2 139.5,634.0 147.5,631.4 155.5,629.6 163.5,628.4 171.5,629.1 179.5,631.2 187.5,634.3 195.5,637.8 203.5,641.2 211.5,644.0 219.5,646.3 227.5,647.7 235.5,648.4 243.5,647.1 251.5,644.7 259.5,640.4 267.5,635.6 275.5,631.5 283.5,628.6 291.5,626.2 299.5,624.7 307.5,624.3 315.5,625.0 323.5,627.0 331.5,630.7 339.5,635.3 347.5,639.7 355.5,643.5 363.5,647.2 371.5,650.4 379.5,652.9 387.5,654.2 395.5,654.4 403.5,653.6 411.5,651.9 419.5,649.3 427.5,646.4 435.5,642.9 443.5,639.2 451.5,635.2 459.5,632.3 467.5,630.0 475.5,628.4 483.5,627.4 491.5,628.1 499.5,630.4 507.5,633.6 515.5,637.5 523.5,641.5 531.5,644.6 539.5,647.2 547.5,649.8 555.5,651.9 563.5,652.8 571.5,652.5 579.5,651.5 587.5,649.9 595.5,647.9 603.5,645.9 611.5,643.6 619.5,641.0 627.5,638.6 635.5,636.3 643.5,634.7 651.5,633.6 659.5,632.9 667.5,632.8 675.5,633.3 683.5,634.4 691.5,635.6 699.5,636.4 707.5,636.8 715.5,636.7 723.5,636.4 731.5,636.3 739.5,636.5 747.5,636.4 755.5,635.9 763.5,634.7 771.5,633.1 779.5,631.6 787.5,629.3 795.5,625.5 803.5,620.6 811.5,614.8 819.5,608.6 827.5,602.6 835.5,597.8 843.5,594.8 851.5,592.8 859.5,592.2 867.5,593.6 875.5,595.8 883.5,598.1 891.5,599.8 899.5,600.3 907.5,599.7 915.5,597.8 923.5,594.8 931.5,591.3 939.5,586.9 947.5,582.6 955.5,579.7 963.5,578.8 971.5,579.6 979.5,581.9 987.5,585.7 995.5,590.6 1003.5,596.6 1011.5,603.3 1019.5,609.9 1027.5,615.6 1035.5,620.3 1043.5,624.2 1051.5,627.5 1059.5,630.1 1067.5,632.0 1075.5,632.9 1083.5,633.4 1091.5,634.0 1099.5,634.8 1107.5,636.6 1115.5,639.2" fill="none" stroke="#FF0000" stroke-width="1" stroke-dasharray="3,3" shape-rendering="crispEdges"/>
</g>
<text x="7" y="577" font-size="9.7" fill="#000" textLength="154.60" lengthAdjust="spacingAndGlyphs" class="t" stroke="#000" >MACD(12,26,9) -0.002659 -0.001479</text>
<rect x="1419" y="566" width="2" height="1" fill="#000" />
<text x="1422" y="575" font-size="9.7" fill="#000" textLength="37.50" lengthAdjust="spacingAndGlyphs" class="t" stroke="#000" >0.004465</text>
<rect x="1419" y="621" width="2" height="1" fill="#000" />
<text x="1422" y="625" font-size="9.7" fill="#000" textLength="17.50" lengthAdjust="spacingAndGlyphs" class="t" stroke="#000" >0.00</text>
<rect x="1419" y="666" width="2" height="1" fill="#000" />
<text x="1422" y="664" font-size="9.7" fill="#000" textLength="42.00" lengthAdjust="spacingAndGlyphs" class="t" stroke="#000" >-0.003715</text>
<g clip-path="url(#crsi)">
<line x1="3" y1="709.5" x2="1418" y2="709.5" stroke="#C0C0C0" stroke-width="1" stroke-dasharray="3,3"/>
<line x1="3" y1="760.5" x2="1418" y2="760.5" stroke="#C0C0C0" stroke-width="1" stroke-dasharray="3,3"/>
<polyline points="3.5,755.1 11.5,743.8 19.5,752.3 27.5,746.9 35.5,746.8 43.5,746.8 51.5,743.5 59.5,738.3 67.5,737.1 75.5,738.4 83.5,738.9 91.5,737.7 99.5,732.7 107.5,727.2 115.5,730.3 123.5,732.1 131.5,735.7 139.5,731.7 147.5,740.5 155.5,746.3 163.5,744.4 171.5,760.7 179.5,750.8 187.5,752.2 195.5,746.4 203.5,741.5 211.5,733.6 219.5,737.3 227.5,735.2 235.5,735.5 243.5,732.2 251.5,729.1 259.5,718.2 267.5,728.8 275.5,740.8 283.5,740.6 291.5,737.4 299.5,743.3 307.5,746.0 315.5,749.0 323.5,750.8 331.5,748.8 339.5,751.5 347.5,751.6 355.5,742.6 363.5,746.1 371.5,746.7 379.5,746.8 387.5,738.2 395.5,736.1 403.5,734.0 411.5,737.4 419.5,730.0 427.5,728.8 435.5,728.4 443.5,732.9 451.5,730.6 459.5,745.2 467.5,741.6 475.5,738.3 483.5,745.1 491.5,755.6 499.5,757.8 507.5,752.9 515.5,753.8 523.5,745.0 531.5,738.6 539.5,741.1 547.5,746.1 555.5,741.3 563.5,743.0 571.5,739.4 579.5,741.6 587.5,739.5 595.5,734.8 603.5,732.0 611.5,731.1 619.5,732.2 627.5,739.7 635.5,738.2 643.5,746.1 651.5,748.8 659.5,746.9 667.5,746.1 675.5,746.9 683.5,749.0 691.5,739.2 699.5,732.2 707.5,732.8 715.5,738.6 723.5,743.8 731.5,750.9 739.5,752.3 747.5,739.0 755.5,738.7 763.5,722.6 771.5,721.1 779.5,727.9 787.5,719.5 795.5,711.1 803.5,716.0 811.5,716.2 819.5,714.7 827.5,724.3 835.5,727.2 843.5,741.3 851.5,739.6 859.5,737.9 867.5,742.7 875.5,735.1 883.5,725.3 891.5,716.1 899.5,714.5 907.5,712.9 915.5,719.5 923.5,718.9 931.5,719.5 939.5,718.6 947.5,722.7 955.5,737.6 963.5,736.7 971.5,737.6 979.5,737.7 987.5,748.9 995.5,747.7 1003.5,749.5 1011.5,751.3 1019.5,738.6 1027.5,740.4 1035.5,735.5 1043.5,736.0 1051.5,738.3 1059.5,747.3 1067.5,743.4 1075.5,736.1 1083.5,743.9 1091.5,744.1 1099.5,746.4 1107.5,754.6 1115.5,755.2" fill="none" stroke="#1E90FF" stroke-width="1" shape-rendering="crispEdges"/>
</g>
<text x="7" y="682" font-size="9.7" fill="#000" textLength="67.50" lengthAdjust="spacingAndGlyphs" class="t" stroke="#000" >RSI(14) 34.2571</text>
<text x="1422" y="680" font-size="9.7" fill="#000" textLength="14.00" lengthAdjust="spacingAndGlyphs" class="t" stroke="#000" >100</text>
<rect x="1419" y="670" width="2" height="1" fill="#000" />
<text x="1422" y="713" font-size="9.7" fill="#000" textLength="9.50" lengthAdjust="spacingAndGlyphs" class="t" stroke="#000" >70</text>
<text x="1422" y="764" font-size="9.7" fill="#000" textLength="9.50" lengthAdjust="spacingAndGlyphs" class="t" stroke="#000" >30</text>
<text x="1422" y="796" font-size="9.7" fill="#000" textLength="5.00" lengthAdjust="spacingAndGlyphs" class="t" stroke="#000" >0</text>
<rect x="1419" y="798" width="2" height="1" fill="#000" />
<rect x="3" y="800" width="1" height="3" fill="#000" />
<text x="2.5" y="812" font-size="9.7" fill="#000" textLength="51.27" lengthAdjust="spacingAndGlyphs" class="t" stroke="#000" >11 Feb 2019</text>
<rect x="67" y="800" width="1" height="3" fill="#000" />
<text x="66.5" y="812" font-size="9.7" fill="#000" textLength="51.96" lengthAdjust="spacingAndGlyphs" class="t" stroke="#000" >20 Feb 2019</text>
<rect x="131" y="800" width="1" height="3" fill="#000" />
<text x="130.5" y="812" font-size="9.7" fill="#000" textLength="46.81" lengthAdjust="spacingAndGlyphs" class="t" stroke="#000" >1 Mar 2019</text>
<rect x="195" y="800" width="1" height="3" fill="#000" />
<text x="194.5" y="812" font-size="9.7" fill="#000" textLength="51.27" lengthAdjust="spacingAndGlyphs" class="t" stroke="#000" >11 Mar 2019</text>
<rect x="259" y="800" width="1" height="3" fill="#000" />
<text x="258.5" y="812" font-size="9.7" fill="#000" textLength="51.96" lengthAdjust="spacingAndGlyphs" class="t" stroke="#000" >20 Mar 2019</text>
<rect x="323" y="800" width="1" height="3" fill="#000" />
<text x="322.5" y="812" font-size="9.7" fill="#000" textLength="51.96" lengthAdjust="spacingAndGlyphs" class="t" stroke="#000" >29 Mar 2019</text>
<rect x="387" y="800" width="1" height="3" fill="#000" />
<text x="386.5" y="812" font-size="9.7" fill="#000" textLength="44.77" lengthAdjust="spacingAndGlyphs" class="t" stroke="#000" >8 Apr 2019</text>
<rect x="451" y="800" width="1" height="3" fill="#000" />
<text x="450.5" y="812" font-size="9.7" fill="#000" textLength="49.90" lengthAdjust="spacingAndGlyphs" class="t" stroke="#000" >17 Apr 2019</text>
<rect x="515" y="800" width="1" height="3" fill="#000" />
<text x="514.5" y="812" font-size="9.7" fill="#000" textLength="49.90" lengthAdjust="spacingAndGlyphs" class="t" stroke="#000" >28 Apr 2019</text>
<rect x="579" y="800" width="1" height="3" fill="#000" />
<text x="578.5" y="812" font-size="9.7" fill="#000" textLength="48.35" lengthAdjust="spacingAndGlyphs" class="t" stroke="#000" >7 May 2019</text>
<rect x="643" y="800" width="1" height="3" fill="#000" />
<text x="642.5" y="812" font-size="9.7" fill="#000" textLength="53.49" lengthAdjust="spacingAndGlyphs" class="t" stroke="#000" >16 May 2019</text>
<rect x="707" y="800" width="1" height="3" fill="#000" />
<text x="706.5" y="812" font-size="9.7" fill="#000" textLength="53.49" lengthAdjust="spacingAndGlyphs" class="t" stroke="#000" >26 May 2019</text>
<rect x="771" y="800" width="1" height="3" fill="#000" />
<text x="770.5" y="812" font-size="9.7" fill="#000" textLength="45.80" lengthAdjust="spacingAndGlyphs" class="t" stroke="#000" >4 Jun 2019</text>
<rect x="835" y="800" width="1" height="3" fill="#000" />
<text x="834.5" y="812" font-size="9.7" fill="#000" textLength="50.94" lengthAdjust="spacingAndGlyphs" class="t" stroke="#000" >13 Jun 2019</text>
<rect x="899" y="800" width="1" height="3" fill="#000" />
<text x="898.5" y="812" font-size="9.7" fill="#000" textLength="50.94" lengthAdjust="spacingAndGlyphs" class="t" stroke="#000" >23 Jun 2019</text>
<rect x="963" y="800" width="1" height="3" fill="#000" />
<text x="962.5" y="812" font-size="9.7" fill="#000" textLength="42.71" lengthAdjust="spacingAndGlyphs" class="t" stroke="#000" >2 Jul 2019</text>
<rect x="1027" y="800" width="1" height="3" fill="#000" />
<text x="1026.5" y="812" font-size="9.7" fill="#000" textLength="47.15" lengthAdjust="spacingAndGlyphs" class="t" stroke="#000" >11 Jul 2019</text>
<rect x="1091" y="800" width="1" height="3" fill="#000" />
<text x="1090.5" y="812" font-size="9.7" fill="#000" textLength="47.84" lengthAdjust="spacingAndGlyphs" class="t" stroke="#000" >21 Jul 2019</text>
<rect x="0" y="820" width="1462" height="1" fill="#DADADA" />
<rect x="0" y="821" width="1462" height="22" fill="#F0F0F0" />
<rect x="0" y="822" width="1462" height="1" fill="#000" />
<rect x="4" y="822" width="108" height="19" fill="#FFFFFF" />
<path d="M4.5,822 V840.5 H111.5 V822" fill="none" stroke="#000" stroke-width="1" shape-rendering="crispEdges"/>
<rect x="5" y="822" width="106" height="1" fill="#FFFFFF" />
<rect x="0" y="842" width="1462" height="1" fill="#FBFBFB" />
<rect x="5" y="841" width="108" height="1" fill="#B4B4B4" />
<rect x="112" y="823" width="1" height="18" fill="#C8C8C8" />
<text x="15.5" y="837" font-size="13" fill="#000" textLength="84.50" lengthAdjust="spacingAndGlyphs" >EURUSD-,Daily</text>
<text x="122" y="837" font-size="13" fill="#6D6D6D" textLength="87.00" lengthAdjust="spacingAndGlyphs" >AUDUSD-,Daily</text>
<rect x="220" y="825" width="1" height="13" fill="#6D6D6D" />
<text x="232.3" y="837" font-size="13" fill="#6D6D6D" textLength="84.00" lengthAdjust="spacingAndGlyphs" >USDCHF-,Daily</text>
<rect x="328" y="825" width="1" height="13" fill="#6D6D6D" />
<text x="339.5" y="837" font-size="13" fill="#6D6D6D" textLength="85.50" lengthAdjust="spacingAndGlyphs" >USDCAD-,Daily</text>
<rect x="436" y="825" width="1" height="13" fill="#6D6D6D" />
<text x="448.4" y="837" font-size="13" fill="#6D6D6D" textLength="87.60" lengthAdjust="spacingAndGlyphs" >USDCNH-,Daily</text>
<rect x="548" y="825" width="1" height="13" fill="#6D6D6D" />
<text x="559.6" y="837" font-size="13" fill="#6D6D6D" textLength="96.40" lengthAdjust="spacingAndGlyphs" >EURCHF-,Weekly</text>
<rect x="668" y="825" width="1" height="13" fill="#6D6D6D" />
<text x="680" y="837" font-size="13" fill="#6D6D6D" textLength="83.30" lengthAdjust="spacingAndGlyphs" >XAUUSD-,M15</text>
<rect x="776" y="825" width="1" height="13" fill="#6D6D6D" />
<text x="787.4" y="837" font-size="13" fill="#6D6D6D" textLength="72.20" lengthAdjust="spacingAndGlyphs" >GBPUSD-,H1</text>
<rect x="872" y="825" width="1" height="13" fill="#6D6D6D" />
<text x="883" y="837" font-size="13" fill="#6D6D6D" textLength="56.60" lengthAdjust="spacingAndGlyphs" >UKOil-,H1</text>
<rect x="952" y="825" width="1" height="13" fill="#6D6D6D" />
<polygon points="1437,828 1437,834 1434,831" fill="#A0A0A0"/>
<polygon points="1453,828 1453,834 1456,831" fill="#A0A0A0"/>
<rect x="6" y="43" width="52" height="24" fill="url(#gbtn)" />
<rect x="6" y="67" width="109" height="40" fill="url(#gbox)" />
<rect x="173" y="43" width="52" height="24" fill="url(#gbtn)" />
<rect x="117" y="67" width="108" height="40" fill="url(#gbox)" />
<path d="M6.5,43.5 H57.5 V67.5 H114.5 V106.5 H6.5 Z" fill="none" stroke="#B80000" stroke-width="1" shape-rendering="crispEdges"/>
<path d="M173.5,43.5 H224.5 V106.5 H117.5 V67.5 H173.5 Z" fill="none" stroke="#B80000" stroke-width="1" shape-rendering="crispEdges"/>
<rect x="10" y="66" width="44" height="1" fill="#A00000" />
<rect x="10" y="67" width="44" height="1" fill="#EE6A6A" />
<rect x="177" y="66" width="44" height="1" fill="#A00000" />
<rect x="177" y="67" width="44" height="1" fill="#EE6A6A" />
<text x="18.5" y="59" font-size="12.5" fill="#FFFFFF" textLength="25.50" lengthAdjust="spacingAndGlyphs" >SELL</text>
<text x="186.8" y="59" font-size="12.5" fill="#FFFFFF" textLength="23.20" lengthAdjust="spacingAndGlyphs" >BUY</text>
<rect x="58" y="43" width="115" height="24" fill="#FFFFFF" />
<rect x="60.5" y="43.5" width="111" height="21" fill="#FFFFFF" stroke="#A8A8A8" stroke-width="1"/>
<rect x="61.5" y="44.5" width="20" height="19.5" fill="url(#gspin)" stroke="#B8B8B8" stroke-width="1"/>
<rect x="150.5" y="44.5" width="20" height="19.5" fill="url(#gspin)" stroke="#B8B8B8" stroke-width="1"/>
<polygon points="67.5,52.5 73.5,52.5 70.5,55.5" fill="#5068C8"/>
<polygon points="157,55.5 163,55.5 160,52.5" fill="#5068C8"/>
<text x="122.8" y="58" font-size="12.5" fill="#000" textLength="23.00" lengthAdjust="spacingAndGlyphs" >1.00</text>
<text x="26.5" y="98" font-size="12.5" fill="#FFFFFF" textLength="23.00" lengthAdjust="spacingAndGlyphs" font-weight="bold" >1.11</text>
<text x="53" y="98" font-size="33.5" fill="#FFFFFF" textLength="35.00" lengthAdjust="spacingAndGlyphs" >44</text>
<text x="93" y="82" font-size="12.5" fill="#FFFFFF" textLength="6.50" lengthAdjust="spacingAndGlyphs" font-weight="bold" >7</text>
<text x="136.5" y="98" font-size="12.5" fill="#FFFFFF" textLength="23.30" lengthAdjust="spacingAndGlyphs" font-weight="bold" >1.11</text>
<text x="164" y="98" font-size="33.5" fill="#FFFFFF" textLength="35.50" lengthAdjust="spacingAndGlyphs" >46</text>
<text x="204" y="82" font-size="12.5" fill="#FFFFFF" textLength="7.00" lengthAdjust="spacingAndGlyphs" font-weight="bold" >4</text>
</svg></body></html>
